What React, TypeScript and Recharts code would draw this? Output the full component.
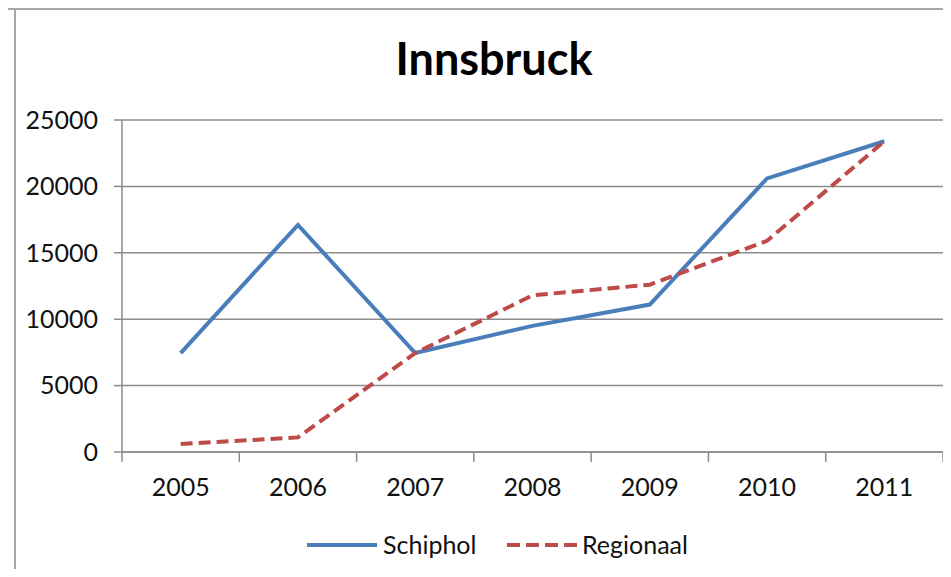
import { LineChart, Line, XAxis, YAxis, CartesianGrid } from 'recharts';

const years = ['2005', '2006', '2007', '2008', '2009', '2010', '2011'];
const schiphol = [7450, 17100, 7450, 9500, 11100, 20600, 23400];
const regionaal = [600, 1100, 7450, 11800, 12600, 15900, 23400];
const yTicks = [0, 5000, 10000, 15000, 20000, 25000];

const data = years.map((year, i) => ({
  year,
  Schiphol: schiphol[i],
  Regionaal: regionaal[i],
}));

const W = 951;
const H = 577;
const margin = { top: 120, right: 8, left: 0, bottom: 85 };
const yAxisWidth = 122;
const band = (W - margin.left - margin.right - yAxisWidth) / years.length;

const font = 'Lato, "Open Sans", sans-serif';
const blue = '#4a7ebb';
const red = '#be4b48';
const grid = '#8c8c8c';

function YearTick(props: any) {
  const { x, y, payload, index } = props;
  const half = band / 2;
  return (
    <g>
      <line x1={x - half} y1={y} x2={x - half} y2={y + 10} stroke={grid} strokeWidth={1.5} />
      {index === years.length - 1 && (
        <line x1={x + half} y1={y} x2={x + half} y2={y + 10} stroke={grid} strokeWidth={1.5} />
      )}
      <text x={x} y={y + 44} textAnchor="middle" fontFamily={font} fontSize={25} fill="#111">
        {payload.value}
      </text>
    </g>
  );
}

export default function App() {
  return (
    <div style={{ position: 'relative', width: W, height: H, margin: -8, background: '#fff', overflow: 'hidden' }}>
      <div style={{ position: 'absolute', left: 0, top: 8, width: W, borderTop: '2px solid #a6a6a6' }} />
      <div style={{ position: 'absolute', left: 14, top: 8, height: H, borderLeft: '2px solid #a6a6a6' }} />
      <div
        style={{
          position: 'absolute',
          top: 30,
          left: 194,
          width: 600,
          textAlign: 'center',
          fontFamily: font,
          fontWeight: 700,
          fontSize: 45,
          lineHeight: '56px',
          color: '#000',
        }}
      >
        Innsbruck
      </div>
      <LineChart width={W} height={H} data={data} margin={margin} style={{ position: 'absolute', left: 0, top: 0 }}>
        <CartesianGrid vertical={false} stroke={grid} strokeWidth={1.5} />
        <XAxis
          dataKey="year"
          stroke={grid}
          strokeWidth={1.5}
          tickLine={false}
          tickSize={0}
          tickMargin={0}
          tick={<YearTick />}
          height={40}
          interval={0}
          padding={{ left: band / 2, right: band / 2 }}
        />
        <YAxis
          domain={[0, 25000]}
          ticks={yTicks}
          width={yAxisWidth}
          stroke={grid}
          strokeWidth={1.5}
          tickSize={8}
          tickMargin={16}
          tick={{ fontFamily: font, fontSize: 25, fill: '#111' }}
        />
        <Line
          type="linear"
          dataKey="Schiphol"
          stroke={blue}
          strokeWidth={4}
          dot={false}
          isAnimationActive={false}
        />
        <Line
          type="linear"
          dataKey="Regionaal"
          stroke={red}
          strokeWidth={4}
          strokeDasharray="12 6"
          dot={false}
          isAnimationActive={false}
        />
      </LineChart>
      <svg width={W} height={60} style={{ position: 'absolute', left: 0, top: 516 }}>
        <line x1={307} y1={29} x2={377} y2={29} stroke={blue} strokeWidth={4} />
        <text x={383} y={38} fontFamily={font} fontSize={25} fill="#111">Schiphol</text>
        <line x1={507} y1={29} x2={577} y2={29} stroke={red} strokeWidth={4} strokeDasharray="13 6" />
        <text x={582} y={38} fontFamily={font} fontSize={25} fill="#111">Regionaal</text>
      </svg>
    </div>
  );
}
